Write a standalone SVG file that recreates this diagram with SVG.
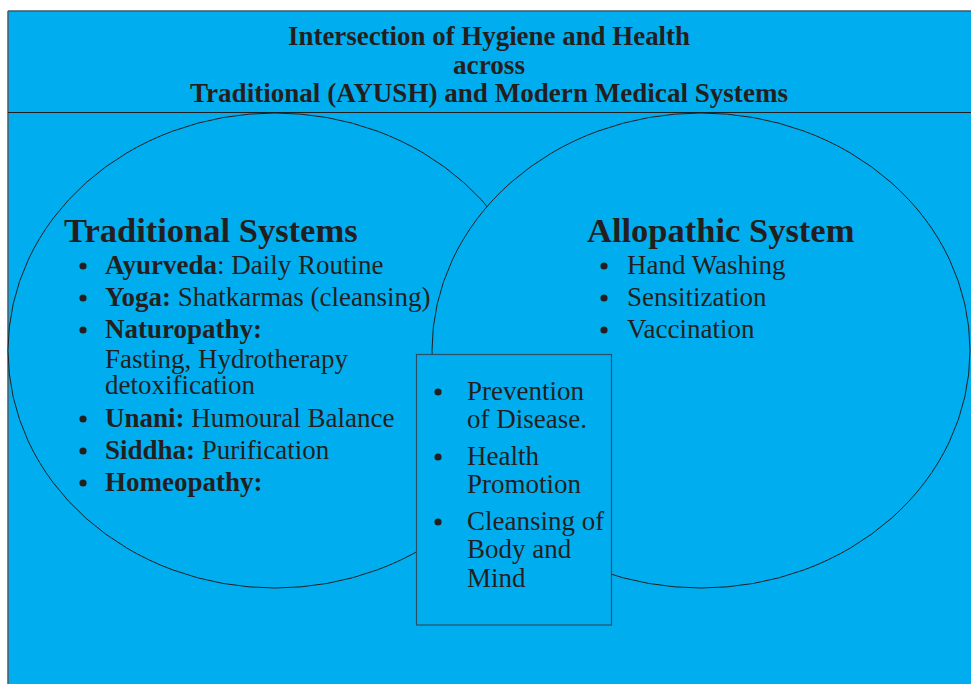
<svg xmlns="http://www.w3.org/2000/svg" width="971" height="684" viewBox="0 0 971 684">
  <style>
    .panel { fill: #00AEEF; }
    .ring { fill: #00AEEF; stroke: #231F20; stroke-width: 1; }
    .box { fill: #00AEEF; stroke: #2B4F66; stroke-width: 1.2; }
    .title { font-family: "Liberation Serif", "Times New Roman", serif; font-weight: bold; font-size: 26.5px; fill: #231F20; text-anchor: middle; }
    .head { font-family: "Liberation Serif", "Times New Roman", serif; font-weight: bold; font-size: 34.5px; fill: #231F20; }
    .item { font-family: "Liberation Serif", "Times New Roman", serif; font-size: 27px; fill: #231F20; }
    .item .b { font-weight: bold; }
    .dot { fill: #231F20; }
  </style>

  <!-- page background and frame -->
  <rect x="0" y="0" width="971" height="684" fill="#FFFFFF"/>
  <rect class="panel" x="8" y="11" width="963" height="673"/>
  <line x1="8" y1="11" x2="971" y2="11" stroke="#3C5868" stroke-width="1.5"/>
  <line x1="8" y1="11" x2="8" y2="684" stroke="#4A5A64" stroke-width="1.5"/>
  <line x1="8" y1="112.5" x2="971" y2="112.5" stroke="#231F20" stroke-width="1.2"/>

  <!-- title -->
  <g id="title">
    <text class="title" x="489" y="45" textLength="402" lengthAdjust="spacingAndGlyphs">Intersection of Hygiene and Health</text>
    <text class="title" x="489" y="74" textLength="72" lengthAdjust="spacingAndGlyphs">across</text>
    <text class="title" x="489" y="102" textLength="598" lengthAdjust="spacingAndGlyphs">Traditional (AYUSH) and Modern Medical Systems</text>
  </g>

  <!-- left set: traditional systems -->
  <g id="traditional">
    <ellipse class="ring" cx="275" cy="350.5" rx="267" ry="237.5"/>
  </g>

  <!-- right set: allopathic system -->
  <g id="allopathic">
    <ellipse class="ring" cx="701" cy="350.5" rx="269" ry="237.5"/>
    <text class="head" x="587" y="242">Allopathic System</text>
    <circle class="dot" cx="604" cy="266" r="3.6"/>
    <text class="item" x="627" y="274">Hand Washing</text>
    <circle class="dot" cx="604" cy="298" r="3.6"/>
    <text class="item" x="627" y="306">Sensitization</text>
    <circle class="dot" cx="604" cy="330" r="3.6"/>
    <text class="item" x="627" y="338">Vaccination</text>
  </g>

  <!-- traditional list drawn above the right ring -->
  <g id="traditional-list">
    <text class="head" x="64" y="242">Traditional Systems</text>
    <circle class="dot" cx="83" cy="266" r="3.6"/>
    <text class="item" x="105" y="274"><tspan class="b">Ayurveda</tspan>: Daily Routine</text>
    <circle class="dot" cx="83" cy="298" r="3.6"/>
    <text class="item" x="105" y="306"><tspan class="b">Yoga:</tspan> Shatkarmas (cleansing)</text>
    <circle class="dot" cx="83" cy="330" r="3.6"/>
    <text class="item" x="105" y="338"><tspan class="b">Naturopathy:</tspan></text>
    <text class="item" x="105" y="368">Fasting, Hydrotherapy</text>
    <text class="item" x="105" y="394">detoxification</text>
    <circle class="dot" cx="83" cy="419" r="3.6"/>
    <text class="item" x="105" y="427"><tspan class="b">Unani:</tspan> Humoural Balance</text>
    <circle class="dot" cx="83" cy="451" r="3.6"/>
    <text class="item" x="105" y="459"><tspan class="b">Siddha:</tspan> Purification</text>
    <circle class="dot" cx="83" cy="483" r="3.6"/>
    <text class="item" x="105" y="491"><tspan class="b">Homeopathy:</tspan></text>
  </g>

  <!-- shared overlap box -->
  <g id="common">
    <rect class="box" x="416.5" y="354.5" width="195" height="270.5"/>
    <circle class="dot" cx="438" cy="392" r="3.6"/>
    <text class="item" x="467" y="400">Prevention</text>
    <text class="item" x="467" y="428">of Disease.</text>
    <circle class="dot" cx="438" cy="457" r="3.6"/>
    <text class="item" x="467" y="465">Health</text>
    <text class="item" x="467" y="493">Promotion</text>
    <circle class="dot" cx="438" cy="522" r="3.6"/>
    <text class="item" x="467" y="530">Cleansing of</text>
    <text class="item" x="467" y="558">Body and</text>
    <text class="item" x="467" y="587">Mind</text>
  </g>
</svg>
